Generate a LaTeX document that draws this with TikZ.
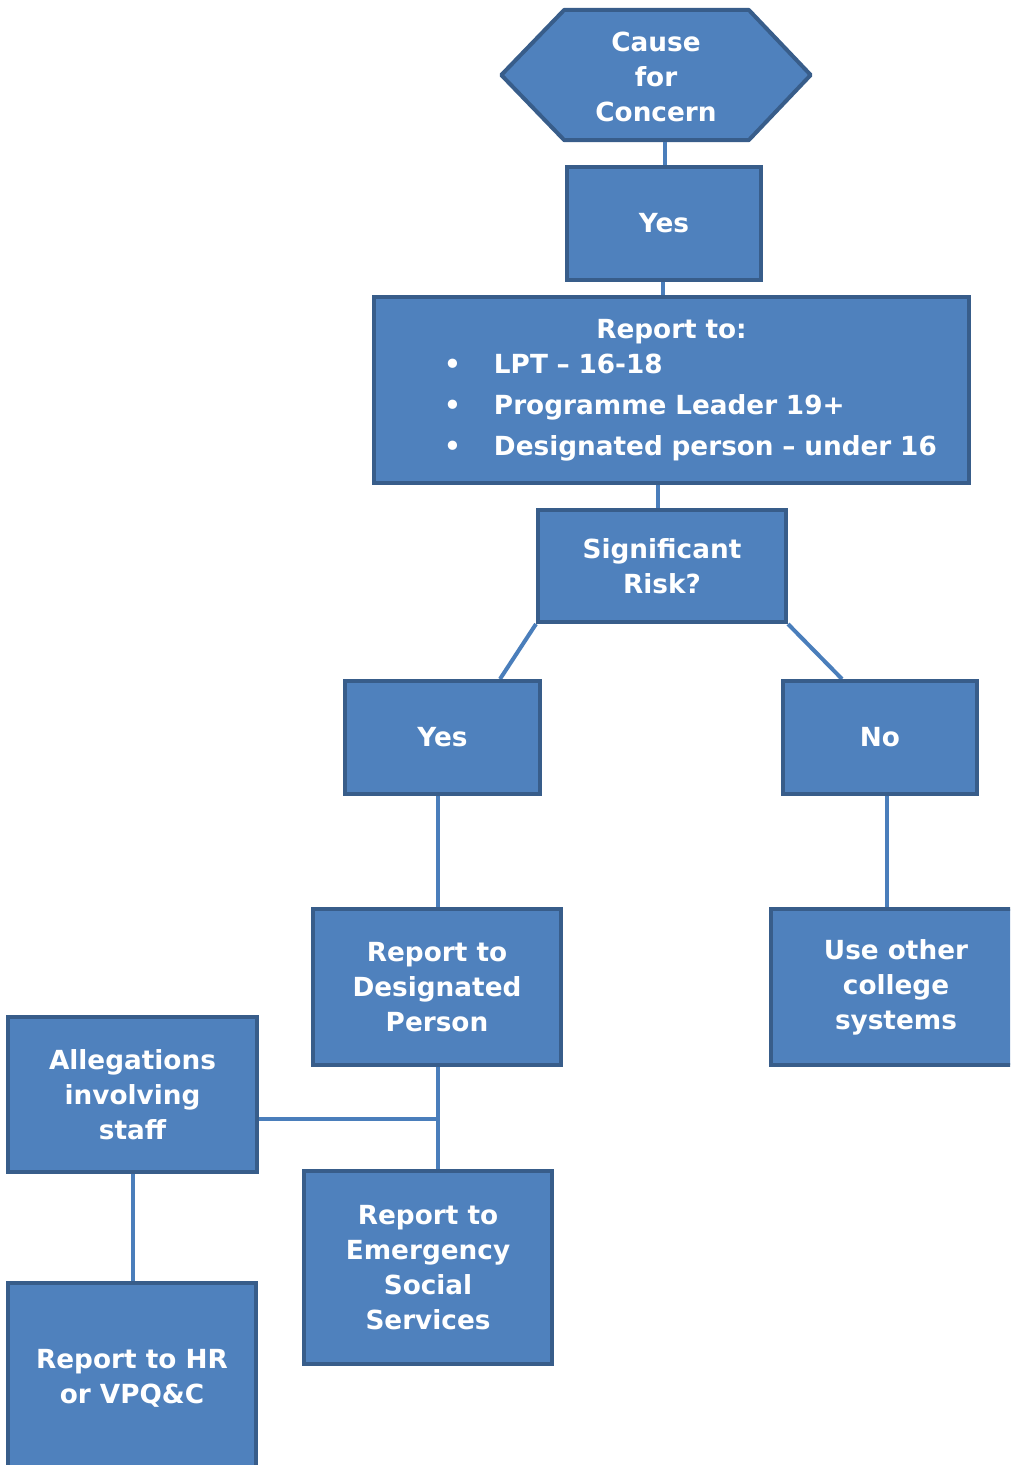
\documentclass[tikz,border=0pt]{standalone}
\usepackage{fontspec}
\setmainfont{DejaVu Sans}
\usetikzlibrary{calc}
\definecolor{fillc}{HTML}{4F81BD}
\definecolor{borderc}{HTML}{385D8A}
\definecolor{linec}{HTML}{4A7EBB}
\pgfdeclarelayer{bg}
\pgfsetlayers{bg,main}
\begin{document}
\begin{tikzpicture}[x=1pt,y=-1pt,
  box/.style={rectangle, draw=borderc, fill=fillc, line width=4pt, text=white,
    font=\fontsize{26.3}{35}\selectfont\bfseries, align=center, inner sep=0pt},
  link/.style={draw=linec, line width=4pt},
  txt/.style={text=white, font=\fontsize{26.3}{35}\selectfont\bfseries, align=center, inner sep=0pt}]
\useasboundingbox (0,0) rectangle (1010,1465);
\clip (0,0) rectangle (1010,1465);

% hexagon holder
\node[txt, minimum width=309, minimum height=130] (cause) at (656,77) {Cause\\for\\Concern};
\node[box, minimum width=194, minimum height=113] (yes1) at (664,223.5) {Yes};
\node[box, minimum width=595, minimum height=186, text width=595, align=left] (report) at (671.5,390)
  {\makebox[595pt]{Report to:}\\
   \hspace*{70pt}\makebox[50pt][l]{•}LPT – 16-18\\[6pt]
   \hspace*{70pt}\makebox[50pt][l]{•}Programme Leader 19+\\[6pt]
   \hspace*{70pt}\makebox[50pt][l]{•}Designated person – under 16};
\node[box, minimum width=248, minimum height=112] (sig) at (662,566) {Significant\\Risk?};
\node[box, minimum width=195, minimum height=113] (yes2) at (442.5,737.5) {Yes};
\node[box, minimum width=194, minimum height=113] (no) at (880,737.5) {No};
\node[box, minimum width=248, minimum height=156] (desig) at (437,987) {Report to\\Designated\\Person};
\node[box, minimum width=250, minimum height=156] (other) at (896,987) {Use other\\college\\systems};
\node[box, minimum width=249, minimum height=155] (alleg) at (132.5,1094.5) {Allegations\\involving\\staff};
\node[box, minimum width=248, minimum height=193] (emerg) at (428,1267.5) {Report to\\Emergency\\Social\\Services};
\node[box, minimum width=248, minimum height=190] (hr) at (132,1378) {Report to HR\\or VPQ\&C};

\coordinate (c1) at ($(yes1.north)+(1,0)$);
\coordinate (c2) at ($(yes1.south)+(-1,0)$);
\coordinate (c3) at ($(sig.north)+(-4,0)$);
\coordinate (c4) at ($(yes2.south)+(-4.5,0)$);
\coordinate (c5) at ($(desig.south)+(1,0)$);
\coordinate (yes2top) at ($(yes2.north)+(57.5,0)$);
\coordinate (notop) at ($(no.north)+(-38,0)$);
\coordinate (nobot) at ($(no.south)+(7,0)$);
\coordinate (jn) at ($(desig.south)+(1,52)$);

\begin{pgfonlayer}{bg}
\fill[white] (0,0) rectangle (1010,1465);
\draw[draw=borderc, fill=fillc, line width=4pt, line join=round]
  ($(cause.west)+(0,-2)$) -- ($(cause.north west)+(63,-2)$) -- ($(cause.north east)+(-62,-2)$)
  -- ($(cause.east)+(0,-2)$) -- ($(cause.south east)+(-62,-2)$) -- ($(cause.south west)+(63,-2)$) -- cycle;
\draw[link] (c1) -- (c1 |- cause.south);
\draw[link] (c2) -- (c2 |- report.north);
\draw[link] (c3) -- (c3 |- report.south);
\draw[link] (sig.south west) -- (yes2top);
\draw[link] (sig.south east) -- (notop);
\draw[link] (c4) -- (c4 |- desig.north);
\draw[link] (nobot) -- (nobot |- other.north);
\draw[link] (c5) -- (c5 |- emerg.north);
\draw[link] (alleg.east |- jn) -- (jn);
\draw[link] (alleg.south) -- (alleg.south |- hr.north);
\end{pgfonlayer}
\end{tikzpicture}
\end{document}
